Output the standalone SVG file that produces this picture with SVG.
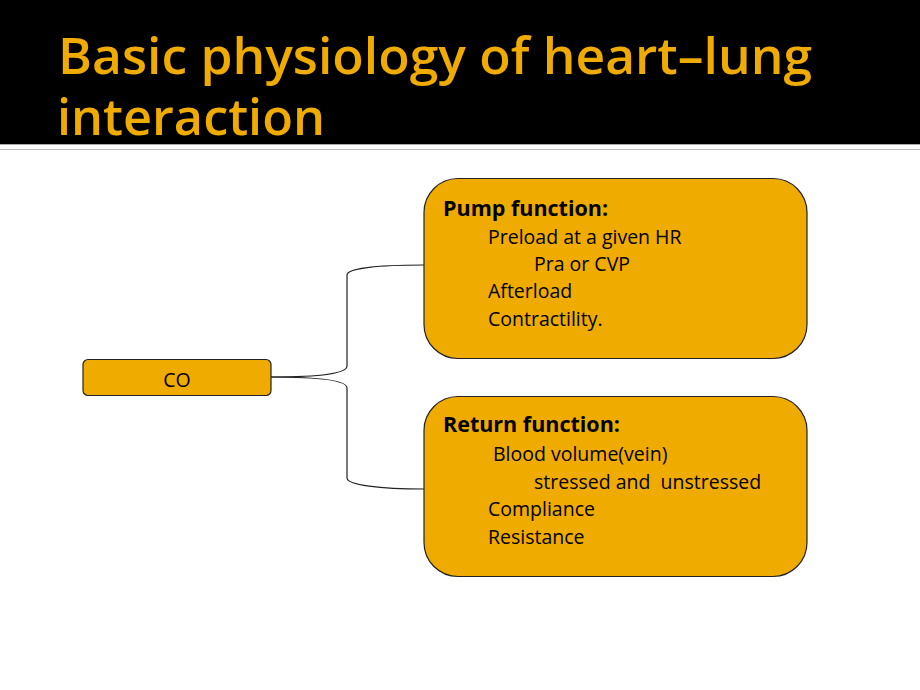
<svg xmlns="http://www.w3.org/2000/svg" width="920" height="690" viewBox="0 0 920 690">
<style>
.title{font-family:"Open Sans","Noto Sans",sans-serif;font-size:51px;font-weight:600;fill:#F0AB00;font-variant-ligatures:none}
.box{fill:#F0AB00;stroke:#222;stroke-width:1.2}
.t{font-family:"Open Sans","Noto Sans",sans-serif;font-size:19.5px;fill:#000;font-variant-ligatures:none}
.b{font-weight:bold;font-size:21.5px}
.conn{fill:none;stroke:#222;stroke-width:1.2}
</style>
<rect x="0" y="0" width="920" height="690" fill="#fff"/>
<rect x="0" y="0" width="920" height="144" fill="#000"/>
<line x1="0" y1="144.5" x2="920" y2="144.5" stroke="#aaa" stroke-width="1"/>
<line x1="0" y1="149.5" x2="920" y2="149.5" stroke="#bbb" stroke-width="1"/>
<text class="title" x="58" y="74" textLength="754" lengthAdjust="spacingAndGlyphs">Basic physiology of heart–lung</text>
<text class="title" x="57" y="135" textLength="268" lengthAdjust="spacingAndGlyphs">interaction</text>
<g id="connectors">
<path class="conn" d="M271,377 C330,377 347,372 347,366 L347,275 C347,268 380,265 424,265"/>
<path class="conn" d="M271,377 C330,377 347,382 347,388 L347,478 C347,485 380,489 424,489"/>
</g>
<g id="co">
<rect class="box" x="83" y="359.5" width="188" height="36" rx="5"/>
<text class="t" x="177" y="387" text-anchor="middle">CO</text>
</g>
<g id="pump">
<rect class="box" x="424" y="178.5" width="383" height="180" rx="34"/>
<text class="t b" x="443" y="216">Pump function:</text>
<text class="t" x="488" y="244">Preload at a given HR</text>
<text class="t" x="534" y="271">Pra or CVP</text>
<text class="t" x="488" y="298">Afterload</text>
<text class="t" x="488" y="326">Contractility.</text>
</g>
<g id="return">
<rect class="box" x="424" y="396.5" width="383" height="180" rx="34"/>
<text class="t b" x="443" y="432">Return function:</text>
<text class="t" x="493" y="461">Blood volume(vein)</text>
<text class="t" x="534" y="489" xml:space="preserve">stressed and  unstressed</text>
<text class="t" x="488" y="516">Compliance</text>
<text class="t" x="488" y="544">Resistance</text>
</g>
</svg>
